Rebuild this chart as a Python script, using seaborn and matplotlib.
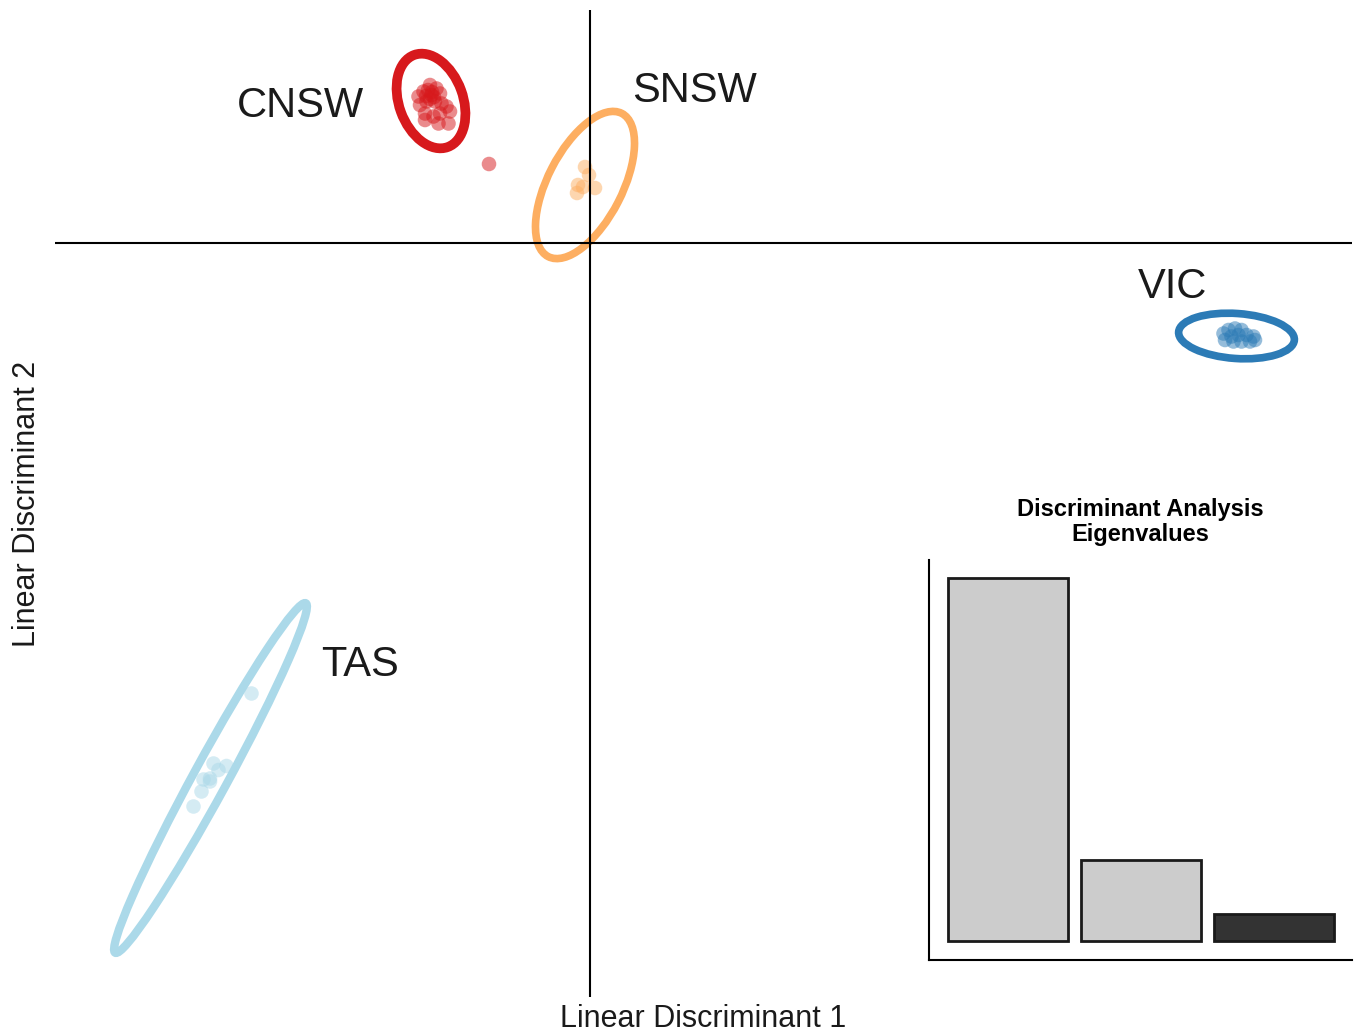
import numpy as np
import pandas as pd
import matplotlib
matplotlib.use("Agg")
import matplotlib.pyplot as plt
from matplotlib.patches import Ellipse
import seaborn as sns

# ---- LDA scores per region ----
cnsw_ld1 = [-3.20, -3.07, -3.33, -3.43, -3.17, -3.00, -3.27, -3.10, -3.40, -2.97,
            -2.87, -2.80, -3.30, -3.00, -3.13, -2.83, -3.03, -3.30, -2.02,
            -3.24, -3.16, -3.28, -3.12, -3.20]
cnsw_ld2 = [3.16, 3.09, 3.03, 2.93, 2.96, 2.99, 2.83, 2.83, 2.76, 2.79,
            2.73, 2.63, 2.59, 2.59, 2.53, 2.39, 2.39, 2.46, 1.58,
            3.06, 3.02, 2.94, 2.92, 2.88]

snsw_ld1 = [-0.10, -0.02, -0.24, -0.26, 0.10, -0.14]
snsw_ld2 = [1.52, 1.36, 1.16, 1.00, 1.10, 1.12]

vic_ld1 = [12.67, 12.77, 12.90, 13.03, 12.83, 12.97, 13.13, 13.27, 12.70, 12.87, 13.03, 13.20, 13.30]
vic_ld2 = [-1.81, -1.74, -1.71, -1.74, -1.87, -1.84, -1.84, -1.87, -1.94, -1.97, -1.97, -1.97, -1.94]

tas_ld1 = [-6.77, -7.53, -7.27, -7.43, -7.60, -7.73, -7.60, -7.77, -7.93]
tas_ld2 = [-9.01, -10.41, -10.46, -10.54, -10.71, -10.73, -10.77, -10.97, -11.27]

regions = ["CNSW", "SNSW", "VIC", "TAS"]
region_colors = ["#d7191c", "#fdae61", "#2c7bb6", "#abd9e9"]

# confidence ellipses: centre, full width / height (LD units), rotation (deg)
ell_cx = [-3.18, -0.10, 12.93, -7.59]
ell_cy = [2.84, 1.16, -1.86, -10.70]
ell_w = [1.96, 3.22, 2.32, 7.96]
ell_h = [1.28, 1.49, 0.90, 0.68]
ell_ang = [110.0, 62.8, -4.0, 61.4]

# group label anchors (left, baseline)
lab_x = [-7.06, 0.84, 10.96, -5.38]
lab_y = [2.52, 2.82, -1.10, -8.66]

# eigenvalue proportions
components = ["LD1", "LD2", "LD3"]
eigen = [0.770, 0.172, 0.057]
bar_colors = ["#cccccc", "#cccccc", "#333333"]

# ---- build tidy frame ----
df = pd.concat([
    pd.DataFrame({"LD1": cnsw_ld1, "LD2": cnsw_ld2, "region": "CNSW"}),
    pd.DataFrame({"LD1": snsw_ld1, "LD2": snsw_ld2, "region": "SNSW"}),
    pd.DataFrame({"LD1": vic_ld1, "LD2": vic_ld2, "region": "VIC"}),
    pd.DataFrame({"LD1": tas_ld1, "LD2": tas_ld2, "region": "TAS"}),
], ignore_index=True)

sns.set_theme(style="white")
plt.rcParams["font.family"] = ["Liberation Sans", "DejaVu Sans"]

W, H = 1357, 1035
fig = plt.figure(figsize=(W / 100, H / 100), dpi=100)

# main score plot
ax = fig.add_axes([55 / W, 1 - 997 / H, 1297 / W, 987 / H])
palette = dict(zip(regions, region_colors))
sns.scatterplot(data=df, x="LD1", y="LD2", hue="region", palette=palette,
                s=110, alpha=0.5, linewidth=0, legend=False, ax=ax, zorder=2)

ell_lw = [7.0, 5.5, 5.5, 6.0]
for i, r in enumerate(regions):
    ax.add_patch(Ellipse((ell_cx[i], ell_cy[i]), ell_w[i], ell_h[i], angle=ell_ang[i],
                         fill=False, edgecolor=region_colors[i], linewidth=ell_lw[i], zorder=3))
    ax.text(lab_x[i], lab_y[i], r, ha="left", va="baseline", fontsize=30,
            color="#1a1a1a", zorder=5)

ax.axhline(0, color="black", linewidth=1.5, zorder=4)
ax.axvline(0, color="black", linewidth=1.5, zorder=4)
ax.set_xlim(-10.70, 15.24)
ax.set_ylim(-15.08, 4.66)
ax.set_xticks([])
ax.set_yticks([])
ax.set_xlabel("")
ax.set_ylabel("")
for sp in ax.spines.values():
    sp.set_visible(False)
ax.patch.set_alpha(0)

fig.text(703.5 / W, 1 - 1027 / H, "Linear Discriminant 1", ha="center", va="baseline",
         fontsize=22, color="#1a1a1a")
fig.text(27 / W, 1 - 504 / H, "Linear Discriminant 2", ha="center", va="center",
         rotation=90, fontsize=22, color="#1a1a1a")

# eigenvalue inset
ins = fig.add_axes([929 / W, 1 - 960 / H, 423 / W, 400 / H])
sns.barplot(x=components, y=eigen, hue=components, palette=bar_colors, width=0.9,
            edgecolor="#1a1a1a", linewidth=2, legend=False, ax=ins)
ins.set_xlim(-0.594, 2.586)
ins.set_ylim(-0.0403, 0.808)
ins.set_xticks([])
ins.set_yticks([])
ins.set_xlabel("")
ins.set_ylabel("")
ins.spines["top"].set_visible(False)
ins.spines["right"].set_visible(False)
for s in ("left", "bottom"):
    ins.spines[s].set_color("black")
    ins.spines[s].set_linewidth(1.5)
ins.patch.set_alpha(0)
ins.set_title("Discriminant Analysis\nEigenvalues", fontsize=17, fontweight="bold",
              linespacing=1.1, pad=13.7, color="black")

fig.savefig("out.png", dpi=100)
